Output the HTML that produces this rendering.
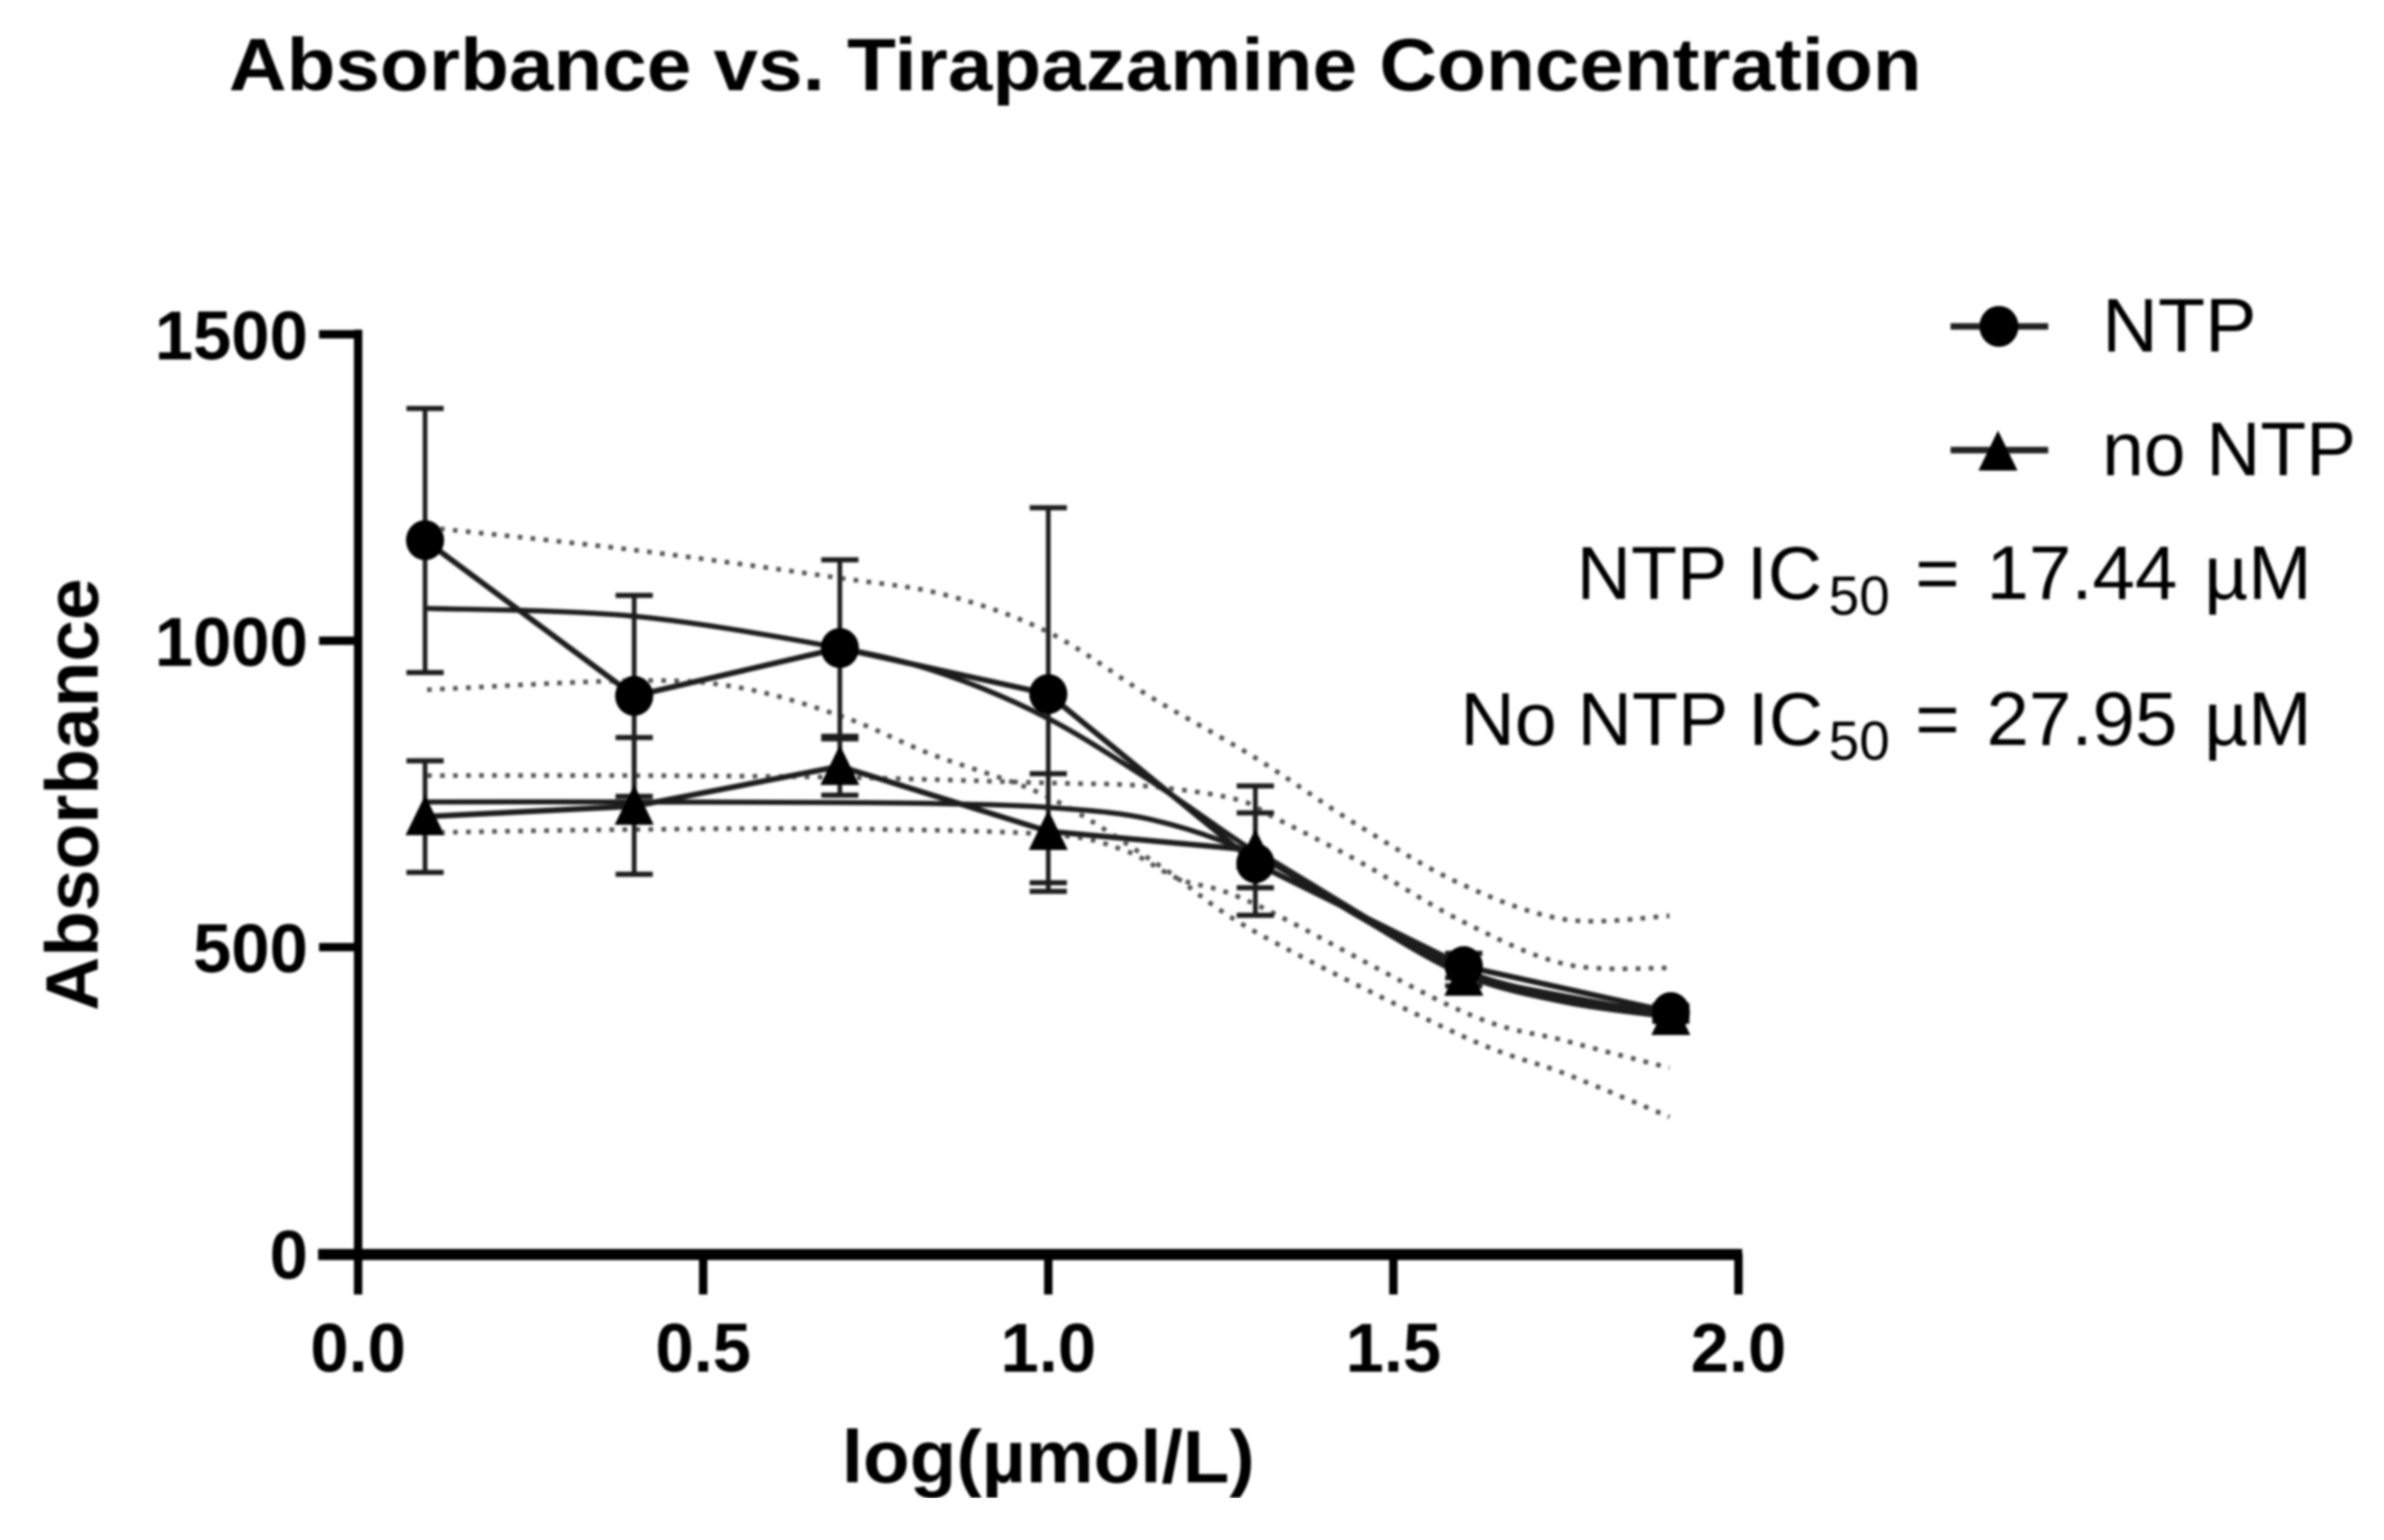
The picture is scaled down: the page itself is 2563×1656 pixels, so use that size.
<!DOCTYPE html>
<html lang="en">
<head>
<meta charset="utf-8">
<title>Absorbance vs. Tirapazamine Concentration</title>
<style>
html,body{margin:0;padding:0;background:#fff;}
svg{display:block;}
text{font-family:"Liberation Sans",Arial,sans-serif;fill:#050505;}
.b{font-weight:700;}
</style>
</head>
<body>
<svg id="chart" xmlns="http://www.w3.org/2000/svg" width="2563" height="1656" viewBox="0 0 2563 1656">
  <defs><filter id="soft" x="0" y="0" width="100%" height="100%" filterUnits="objectBoundingBox"><feGaussianBlur stdDeviation="1.3"/></filter></defs>
  <rect x="0" y="0" width="2563" height="1656" fill="#fff"/>
  <g id="root" filter="url(#soft)">
    <text class="b" x="246" y="97" font-size="80" textLength="1820" lengthAdjust="spacingAndGlyphs">Absorbance vs. Tirapazamine Concentration</text>
    <text class="b" transform="translate(105,1087) rotate(-90)" font-size="80" textLength="465" lengthAdjust="spacingAndGlyphs">Absorbance</text>
    <text class="b" x="905" y="1594" font-size="80" textLength="444" lengthAdjust="spacingAndGlyphs">log(µmol/L)</text>
    <g id="axes"></g>
    <g id="plot"></g>
    <g>
      <g>
        <line x1="2097" y1="351" x2="2202" y2="351" stroke="#222" stroke-width="7"/>
        <ellipse cx="2149" cy="351" rx="21" ry="22" fill="#000"/>
        <text x="2260" y="378" font-size="82" textLength="166" lengthAdjust="spacingAndGlyphs">NTP</text>
      </g>
      <g>
        <line x1="2097" y1="484" x2="2202" y2="484" stroke="#222" stroke-width="7"/>
        <polygon points="2148,463 2169,506 2127,506" fill="#000"/>
        <text x="2260" y="511" font-size="82" textLength="273" lengthAdjust="spacingAndGlyphs">no NTP</text>
      </g>
    </g>
    <text font-size="81"><tspan x="1695" y="644">NTP IC</tspan><tspan x="1966" y="661" font-size="59">50</tspan><tspan x="2059" y="644" font-size="82" word-spacing="6">= 17.44 µM</tspan></text>
    <text font-size="81"><tspan x="1570" y="801">No NTP IC</tspan><tspan x="1966" y="817" font-size="59">50</tspan><tspan x="2059" y="801" font-size="82" word-spacing="6">= 27.95 µM</tspan></text>
  </g>
</svg>
<script>
// Chart data
const xTicks = [0.0, 0.5, 1.0, 1.5, 2.0];
const xTickLabels = ["0.0", "0.5", "1.0", "1.5", "2.0"];
const yTicks = [0, 500, 1000, 1500];
const yTickLabels = ["0", "500", "1000", "1500"];

const doses = [0.097, 0.4, 0.698, 1.0, 1.3, 1.602, 1.902];
const ntpMean = [1164, 910, 988, 913, 637, 469, 394];
const ntpErrHigh = [1379, 1074, 1132, 1217, 763, 490, 405];
const ntpErrLow = [948, 746, 844, 605, 552, 450, 384];
const noNtpMean = [713, 730, 795, 689, 658, 451, 387];
const noNtpErrHigh = [804, 842, 840, 783, 719, 465, 395];
const noNtpErrLow = [622, 619, 748, 591, 597, 437, 379];

const ntpFitX = [0.097, 0.4, 0.698, 0.85, 1.0, 1.15, 1.3, 1.45, 1.602, 1.75, 1.902];
const ntpFit = [1053, 1040, 988, 945, 873, 770, 655, 555, 462, 418, 392];
const noNtpFitX = [0.097, 0.4, 0.698, 0.85, 1.0, 1.15, 1.3, 1.45, 1.602, 1.75, 1.902];
const noNtpFit = [737, 737, 736, 734, 728, 708, 650, 550, 455, 410, 386];

const ntpUpperX = [0.1, 0.4, 0.7, 0.85, 1.0, 1.15, 1.3, 1.45, 1.6, 1.75, 1.9];
const ntpUpper = [1185, 1148, 1102, 1075, 1014, 907, 809, 698, 602, 545, 551];
const ntpLowerX = [0.1, 0.4, 0.55, 0.7, 0.83, 1.0, 1.16, 1.3, 1.6, 1.75, 1.9];
const ntpLower = [920, 935, 924, 877, 815, 745, 634, 525, 355, 293, 223];
const noNtpUpperX = [0.1, 0.4, 0.7, 1.0, 1.14, 1.27, 1.33, 1.45, 1.6, 1.75, 1.9];
const noNtpUpper = [780, 780, 777, 768, 763, 742, 710, 640, 542, 472, 466];
const noNtpLowerX = [0.1, 0.4, 0.7, 1.0, 1.11, 1.19, 1.3, 1.6, 1.75, 1.9];
const noNtpLower = [687, 692, 693, 684, 658, 611, 570, 395, 347, 303];

// Axis functions
function xScale(v) { return 385 + 742 * v; }
function yScale(v) { return 1348 - 0.659 * v; }

const NS = 'http://www.w3.org/2000/svg';
const axes = document.getElementById('axes');
const plot = document.getElementById('plot');

function mk(parent, tag, attrs) {
  const e = document.createElementNS(NS, tag);
  for (const k in attrs) e.setAttribute(k, attrs[k]);
  parent.appendChild(e);
  return e;
}

function smoothPath(xs, ys) {
  const p = xs.map((x, i) => [xScale(x), yScale(ys[i])]);
  let d = 'M' + p[0][0] + ' ' + p[0][1];
  for (let i = 0; i < p.length - 1; i++) {
    const a = p[Math.max(i - 1, 0)], b = p[i], c = p[i + 1], e = p[Math.min(i + 2, p.length - 1)];
    d += ' C' + (b[0] + (c[0] - a[0]) / 6) + ' ' + (b[1] + (c[1] - a[1]) / 6) + ' ' +
      (c[0] - (e[0] - b[0]) / 6) + ' ' + (c[1] - (e[1] - b[1]) / 6) + ' ' + c[0] + ' ' + c[1];
  }
  return d;
}

function straightPath(xs, ys) {
  return xs.map((x, i) => (i ? 'L' : 'M') + xScale(x) + ' ' + yScale(ys[i])).join(' ');
}

// Axes
const yAxisLine = mk(axes, 'line', { x1: 385, y1: yScale(1500) - 5, x2: 385, y2: 1392, stroke: '#050505', 'stroke-width': 9 });


const xAxisLine = mk(axes, 'line', { x1: 342, y1: yScale(0) + 1, x2: 1873, y2: yScale(0) + 1, stroke: '#050505', 'stroke-width': 12 });



yTicks.forEach((v, i) => {
  const tick = mk(axes, 'line', { x1: 343, y1: yScale(v), x2: 385, y2: yScale(v), stroke: '#050505', 'stroke-width': 9 });
  
  
  const label = mk(axes, 'text', { x: 331, y: yScale(v) + 27, 'font-size': 74, 'text-anchor': 'end', class: 'b' });
  label.textContent = yTickLabels[i];
  
  
});
xTicks.forEach((v, i) => {
  const tick = mk(axes, 'line', { x1: xScale(v), y1: yScale(0), x2: xScale(v), y2: 1392, stroke: '#050505', 'stroke-width': 9 });
  
  
  const label = mk(axes, 'text', { x: xScale(v), y: 1475, 'font-size': 74, 'text-anchor': 'middle', class: 'b' });
  label.textContent = xTickLabels[i];
  
  
});

// Confidence bands
function band(xs, ys, name) {
  const el = mk(plot, 'path', { d: smoothPath(xs, ys), fill: 'none', stroke: '#555', 'stroke-width': 5, 'stroke-dasharray': '5 9' });
  
  
}
band(ntpUpperX, ntpUpper, 'ntp-upper-confidence-band');
band(ntpLowerX, ntpLower, 'ntp-lower-confidence-band');
band(noNtpUpperX, noNtpUpper, 'no-ntp-upper-confidence-band');
band(noNtpLowerX, noNtpLower, 'no-ntp-lower-confidence-band');

// Fitted curves
const ntpFitCurve = mk(plot, 'path', { d: smoothPath(ntpFitX, ntpFit), fill: 'none', stroke: '#1a1a1a', 'stroke-width': 5.5 });


const noNtpFitCurve = mk(plot, 'path', { d: smoothPath(noNtpFitX, noNtpFit), fill: 'none', stroke: '#1a1a1a', 'stroke-width': 5.5 });



// Connecting lines
const ntpLine = mk(plot, 'path', { d: straightPath(doses, ntpMean), fill: 'none', stroke: '#1a1a1a', 'stroke-width': 6 });


const noNtpLine = mk(plot, 'path', { d: straightPath(doses, noNtpMean), fill: 'none', stroke: '#1a1a1a', 'stroke-width': 6 });



// Error bars
function errorBars(high, low, name) {
  doses.forEach((d, i) => {
    const g = mk(plot, 'g', {});
    
    
    const x = xScale(d), yh = yScale(high[i]), yl = yScale(low[i]);
    mk(g, 'line', { x1: x, y1: yh, x2: x, y2: yl, stroke: '#1a1a1a', 'stroke-width': 5 });
    mk(g, 'line', { x1: x - 20, y1: yh, x2: x + 20, y2: yh, stroke: '#1a1a1a', 'stroke-width': 5.5 });
    mk(g, 'line', { x1: x - 20, y1: yl, x2: x + 20, y2: yl, stroke: '#1a1a1a', 'stroke-width': 5.5 });
  });
}
errorBars(ntpErrHigh, ntpErrLow, 'ntp-error-bar');
errorBars(noNtpErrHigh, noNtpErrLow, 'no-ntp-error-bar');

// Markers
noNtpMean.forEach((v, i) => {
  const x = xScale(doses[i]), y = yScale(v);
  const m = mk(plot, 'polygon', { points: x + ',' + (y - 23) + ' ' + (x + 21) + ',' + (y + 20) + ' ' + (x - 21) + ',' + (y + 20), fill: '#000' });
  
  
});
ntpMean.forEach((v, i) => {
  const m = mk(plot, 'ellipse', { cx: xScale(doses[i]), cy: yScale(v), rx: 20.5, ry: 21.5, fill: '#000' });
  
  
});
</script>
</body>
</html>
